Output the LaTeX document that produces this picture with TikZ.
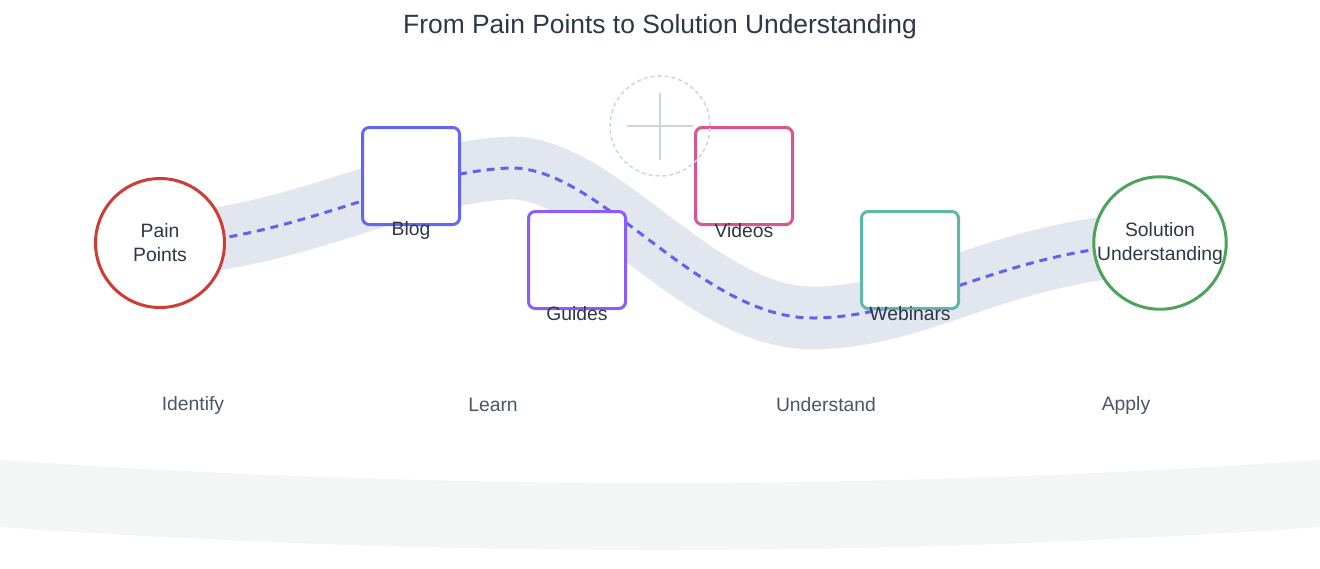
\documentclass[tikz,border=0pt]{standalone}
\usepackage{fontspec}
\setmainfont{Liberation Sans}
\definecolor{band}{HTML}{E2E6EF}
\definecolor{dashc}{HTML}{6461EE}
\definecolor{blogc}{HTML}{6366F1}
\definecolor{guidec}{HTML}{8B5CF6}
\definecolor{videoc}{HTML}{DB548F}
\definecolor{webc}{HTML}{5DB9A6}
\definecolor{painc}{HTML}{D13B35}
\definecolor{solc}{HTML}{4DA35C}
\definecolor{txt}{HTML}{2D3748}
\definecolor{sub}{HTML}{4A5568}
\definecolor{plusc}{HTML}{CBD5E0}
\definecolor{floor}{HTML}{F4F5F5}
\tikzset{
  stagebox/.style={draw=#1, fill=white, line width=2.25pt, rounded corners=5pt,
    minimum width=72.75pt, minimum height=72.75pt, inner sep=0pt},
  endcircle/.style={draw=#1, fill=white, line width=2.25pt, circle,
    minimum size=96.75pt, inner sep=0pt, text=txt, font=\fontsize{14.5}{18}\selectfont, align=center},
  lbl/.style={text=txt, font=\fontsize{14.5}{18}\selectfont, inner sep=0pt},
  steplbl/.style={text=sub, font=\fontsize{14.5}{18}\selectfont, inner sep=0pt},
}
\begin{document}
\begin{tikzpicture}[x=0.75pt, y=-0.75pt]
\useasboundingbox (0,0) rectangle (1320,568);
% floor band
\fill[floor] (0,460) .. controls (440,490.67) and (880,490.67) .. (1320,460)
  -- (1320,527) .. controls (880,557.67) and (440,557.67) .. (0,527) -- cycle;
% title
\node[text=txt, font=\fontsize{19.8}{24}\selectfont, inner sep=0pt] (title) at (660,27) {From Pain Points to Solution Understanding};
% anchors
\coordinate (pc) at (160,245);
\coordinate (sc) at (1160,243);
\coordinate (peak) at (510,168);
\coordinate (trough) at (815,318);
% band
\draw[band, line width=47pt] (pc) .. controls (300,238) and (405,172) .. (peak)
  .. controls (600,166) and (700,320) .. (trough)
  .. controls (925,316) and (1000,250) .. (sc);
% dashed path
\draw[dashc, line width=2.25pt, dash pattern=on 6pt off 4.5pt] (pc) .. controls (300,238) and (405,172) .. (peak)
  .. controls (600,166) and (700,320) .. (trough)
  .. controls (925,316) and (1000,250) .. (sc);
% nodes
\node[endcircle=painc] (pain) at (160,243) {Pain\\Points};
\node[endcircle=solc] (sol) at (sc) {Solution\\Understanding};
\node[stagebox=blogc] (blog) at (411,176) {};
\node[stagebox=guidec] (guides) at (577,260) {};
\node[stagebox=videoc] (videos) at (744,176) {};
\node[stagebox=webc] (webinars) at (910,260) {};
\node[lbl] at ([yshift=-3.5pt]blog.south) {Blog};
\node[lbl] at ([yshift=-3pt]guides.south) {Guides};
\node[lbl] at ([yshift=-3.5pt]videos.south) {Videos};
\node[lbl] at ([yshift=-3pt]webinars.south) {Webinars};
% plus placeholder
\node[draw=plusc, circle, dashed, dash pattern=on 3pt off 2.25pt, line width=1.1pt, minimum size=75pt, inner sep=0pt] (add) at (660,126) {};
\draw[plusc, line width=1.5pt] (627,126) -- (693,126);
\draw[plusc, line width=1.5pt] (660,93) -- (660,160);
% step labels
\node[steplbl] (s1) at (193,405) {Identify};
\node[steplbl] (s2) at (493,405) {Learn};
\node[steplbl] (s3) at (826,405) {Understand};
\node[steplbl] (s4) at (1126,405) {Apply};
\end{tikzpicture}
\end{document}
